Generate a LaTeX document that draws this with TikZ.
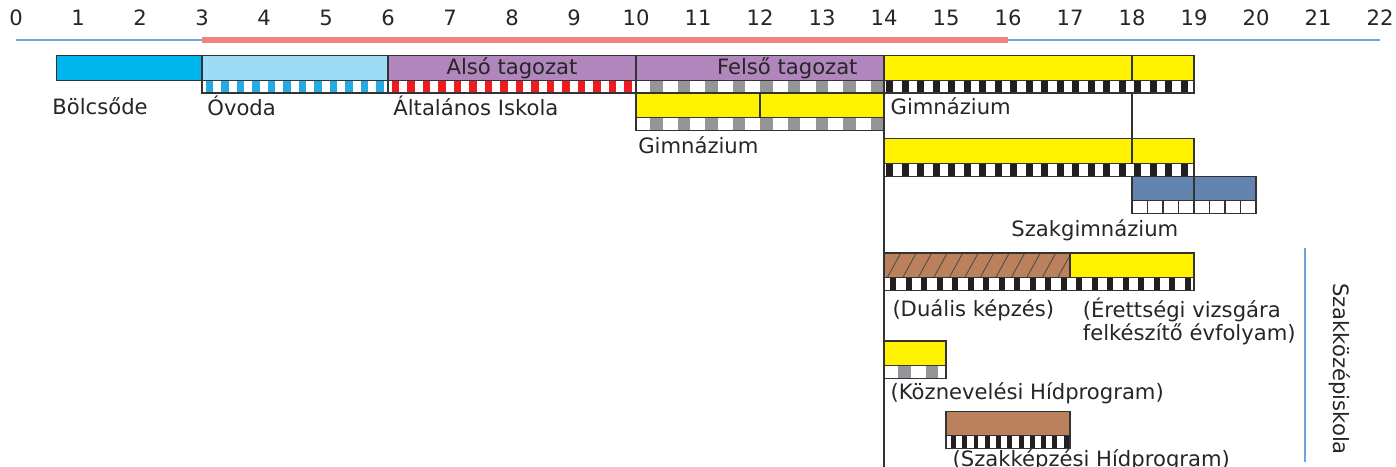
\documentclass[tikz,border=0pt]{standalone}
\usepackage{fontspec}
\setmainfont{DejaVu Sans}
\definecolor{crecheblue}{RGB}{0,182,239}
\definecolor{kinderblue}{RGB}{157,219,246}
\definecolor{kinderstripe}{RGB}{41,169,225}
\definecolor{schoolpurple}{RGB}{176,134,188}
\definecolor{schoolred}{RGB}{237,28,36}
\definecolor{gymyellow}{RGB}{255,242,0}
\definecolor{stripegray}{RGB}{147,149,152}
\definecolor{stripeblack}{RGB}{35,31,32}
\definecolor{techblue}{RGB}{99,132,174}
\definecolor{dualbrown}{RGB}{186,129,92}
\definecolor{axisblue}{RGB}{111,165,220}
\definecolor{agepink}{RGB}{240,130,128}

\begin{document}
\begin{tikzpicture}[every node/.style={font=\fontsize{9.7}{10.5}\selectfont,inner sep=0pt,text=black!85},
  bar/.style={draw=black!80,line width=0.5pt},lbl/.style={anchor=west}]
\useasboundingbox (-0.258,-7.532) rectangle (22.258,0);
\foreach \n in {0,...,22}{\node (t\n) at (\n,-0.29) {\n};}
\draw[axisblue,line width=1pt] (0,-0.645) -- (22,-0.645);
\draw[agepink,line width=2.8pt] (3,-0.645) -- (16,-0.645);
\draw[bar,fill=crecheblue] (0.65,-0.9) rectangle (3,-1.3);
\draw[bar,fill=kinderblue] (3,-0.9) rectangle (6,-1.3);
\draw[bar,fill=schoolpurple] (6,-0.9) rectangle (10,-1.3);
\draw[bar,fill=schoolpurple] (10,-0.9) rectangle (14,-1.3);
\draw[bar,fill=gymyellow] (14,-0.9) rectangle (18,-1.3);
\draw[bar,fill=gymyellow] (18,-0.9) rectangle (19,-1.3);
\foreach \x in {3,3.25,...,5.8}{\fill[kinderstripe] (\x+0.06,-1.3) rectangle ++(0.12,-0.2);}
\foreach \x in {6,6.25,...,9.8}{\fill[schoolred] (\x+0.06,-1.3) rectangle ++(0.12,-0.2);}
\foreach \i in {0,...,8}{\fill[stripegray] (10+\i*0.4444+0.23,-1.3) rectangle ++(0.2,-0.2);}
\foreach \x in {14,14.25,...,18.8}{\fill[stripeblack] (\x+0.04,-1.3) rectangle ++(0.11,-0.2);}
\draw[bar] (3,-1.3) rectangle (6,-1.5) (6,-1.3) rectangle (10,-1.5) (10,-1.3) rectangle (14,-1.5) (14,-1.3) rectangle (19,-1.5);
\node (lower) at (8,-1.1) {Alsó tagozat};
\node (upper) at (12.44,-1.1) {Felső tagozat};
\node[lbl] (creche) at (0.58,-1.71) {Bölcsőde};
\node[lbl] (kinder) at (3.08,-1.71) {Óvoda};
\node[lbl] (primary) at (6.08,-1.71) {Általános Iskola};
\node[lbl] (gymA) at (14.1,-1.71) {Gimnázium};
\draw[bar,fill=gymyellow] (10,-1.5) rectangle (12,-1.9);
\draw[bar,fill=gymyellow] (12,-1.5) rectangle (14,-1.9);
\foreach \i in {0,...,8}{\fill[stripegray] (10+\i*0.4444+0.23,-1.9) rectangle ++(0.2,-0.2);}
\draw[bar] (10,-1.9) rectangle (14,-2.1);
\node[lbl] (gymB) at (10.03,-2.34) {Gimnázium};
\draw[black!80,line width=0.6pt] (18,-1.5) -- (18,-2.23);
\draw[bar,fill=gymyellow] (14,-2.23) rectangle (18,-2.63);
\draw[bar,fill=gymyellow] (18,-2.23) rectangle (19,-2.63);
\foreach \x in {14,14.25,...,18.8}{\fill[stripeblack] (\x+0.04,-2.63) rectangle ++(0.11,-0.21);}
\draw[bar] (14,-2.63) rectangle (19,-2.84);
\draw[bar,fill=techblue] (18,-2.84) rectangle (19,-3.24);
\draw[bar,fill=techblue] (19,-2.84) rectangle (20,-3.24);
\draw[bar] (18,-3.24) rectangle (20,-3.45);
\foreach \x in {18.25,18.5,...,19.8}{\draw[bar] (\x,-3.24) -- (\x,-3.45);}
\node (techgym) at (17.4,-3.71) {Szakgimnázium};
\fill[dualbrown] (14,-4.08) rectangle (17,-4.48);
\begin{scope}
\clip (14,-4.08) rectangle (17,-4.48);
\foreach \x in {13.8,14.05,...,17.1}{\draw[black!70,line width=0.4pt] (\x,-4.48) -- ++(0.22,0.4);}
\end{scope}
\draw[bar] (14,-4.08) rectangle (17,-4.48);
\draw[bar,fill=gymyellow] (17,-4.08) rectangle (19,-4.48);
\foreach \x in {14,14.25,...,18.8}{\fill[stripeblack] (\x+0.1,-4.48) rectangle ++(0.1,-0.21);}
\draw[bar] (14,-4.48) rectangle (19,-4.69);
\node[lbl] (dual) at (14.13,-5.0) {(Duális képzés)};
\node[lbl,align=left] (matura) at (17.2,-5.185) {(Érettségi vizsgára\\felkészítő évfolyam)};
\draw[bar,fill=gymyellow] (14,-5.5) rectangle (15,-5.9);
\foreach \i in {0,1}{\fill[stripegray] (14+\i*0.4444+0.23,-5.9) rectangle ++(0.2,-0.2);}
\draw[bar] (14,-5.9) rectangle (15,-6.1);
\node[lbl] (bridgeA) at (14.1,-6.34) {(Köznevelési Hídprogram)};
\draw[bar,fill=dualbrown] (15,-6.63) rectangle (17,-7.03);
\foreach \i in {0,...,10}{\fill[stripeblack] (15+\i*0.1818+0.08,-7.03) rectangle ++(0.08,-0.2);}
\draw[bar] (15,-7.03) rectangle (17,-7.23);
\node[lbl] (bridgeB) at (15.1,-7.43) {(Szakképzési Hídprogram)};
\draw[black!80,line width=0.6pt] (14,-1.5) -- (14,-7.532);
\draw[axisblue,line width=1.3pt] (20.79,-4.0) -- (20.79,-7.45);
\node[rotate=-90] (vocational) at (21.35,-5.95) {Szakközépiskola};
\end{tikzpicture}
\end{document}
